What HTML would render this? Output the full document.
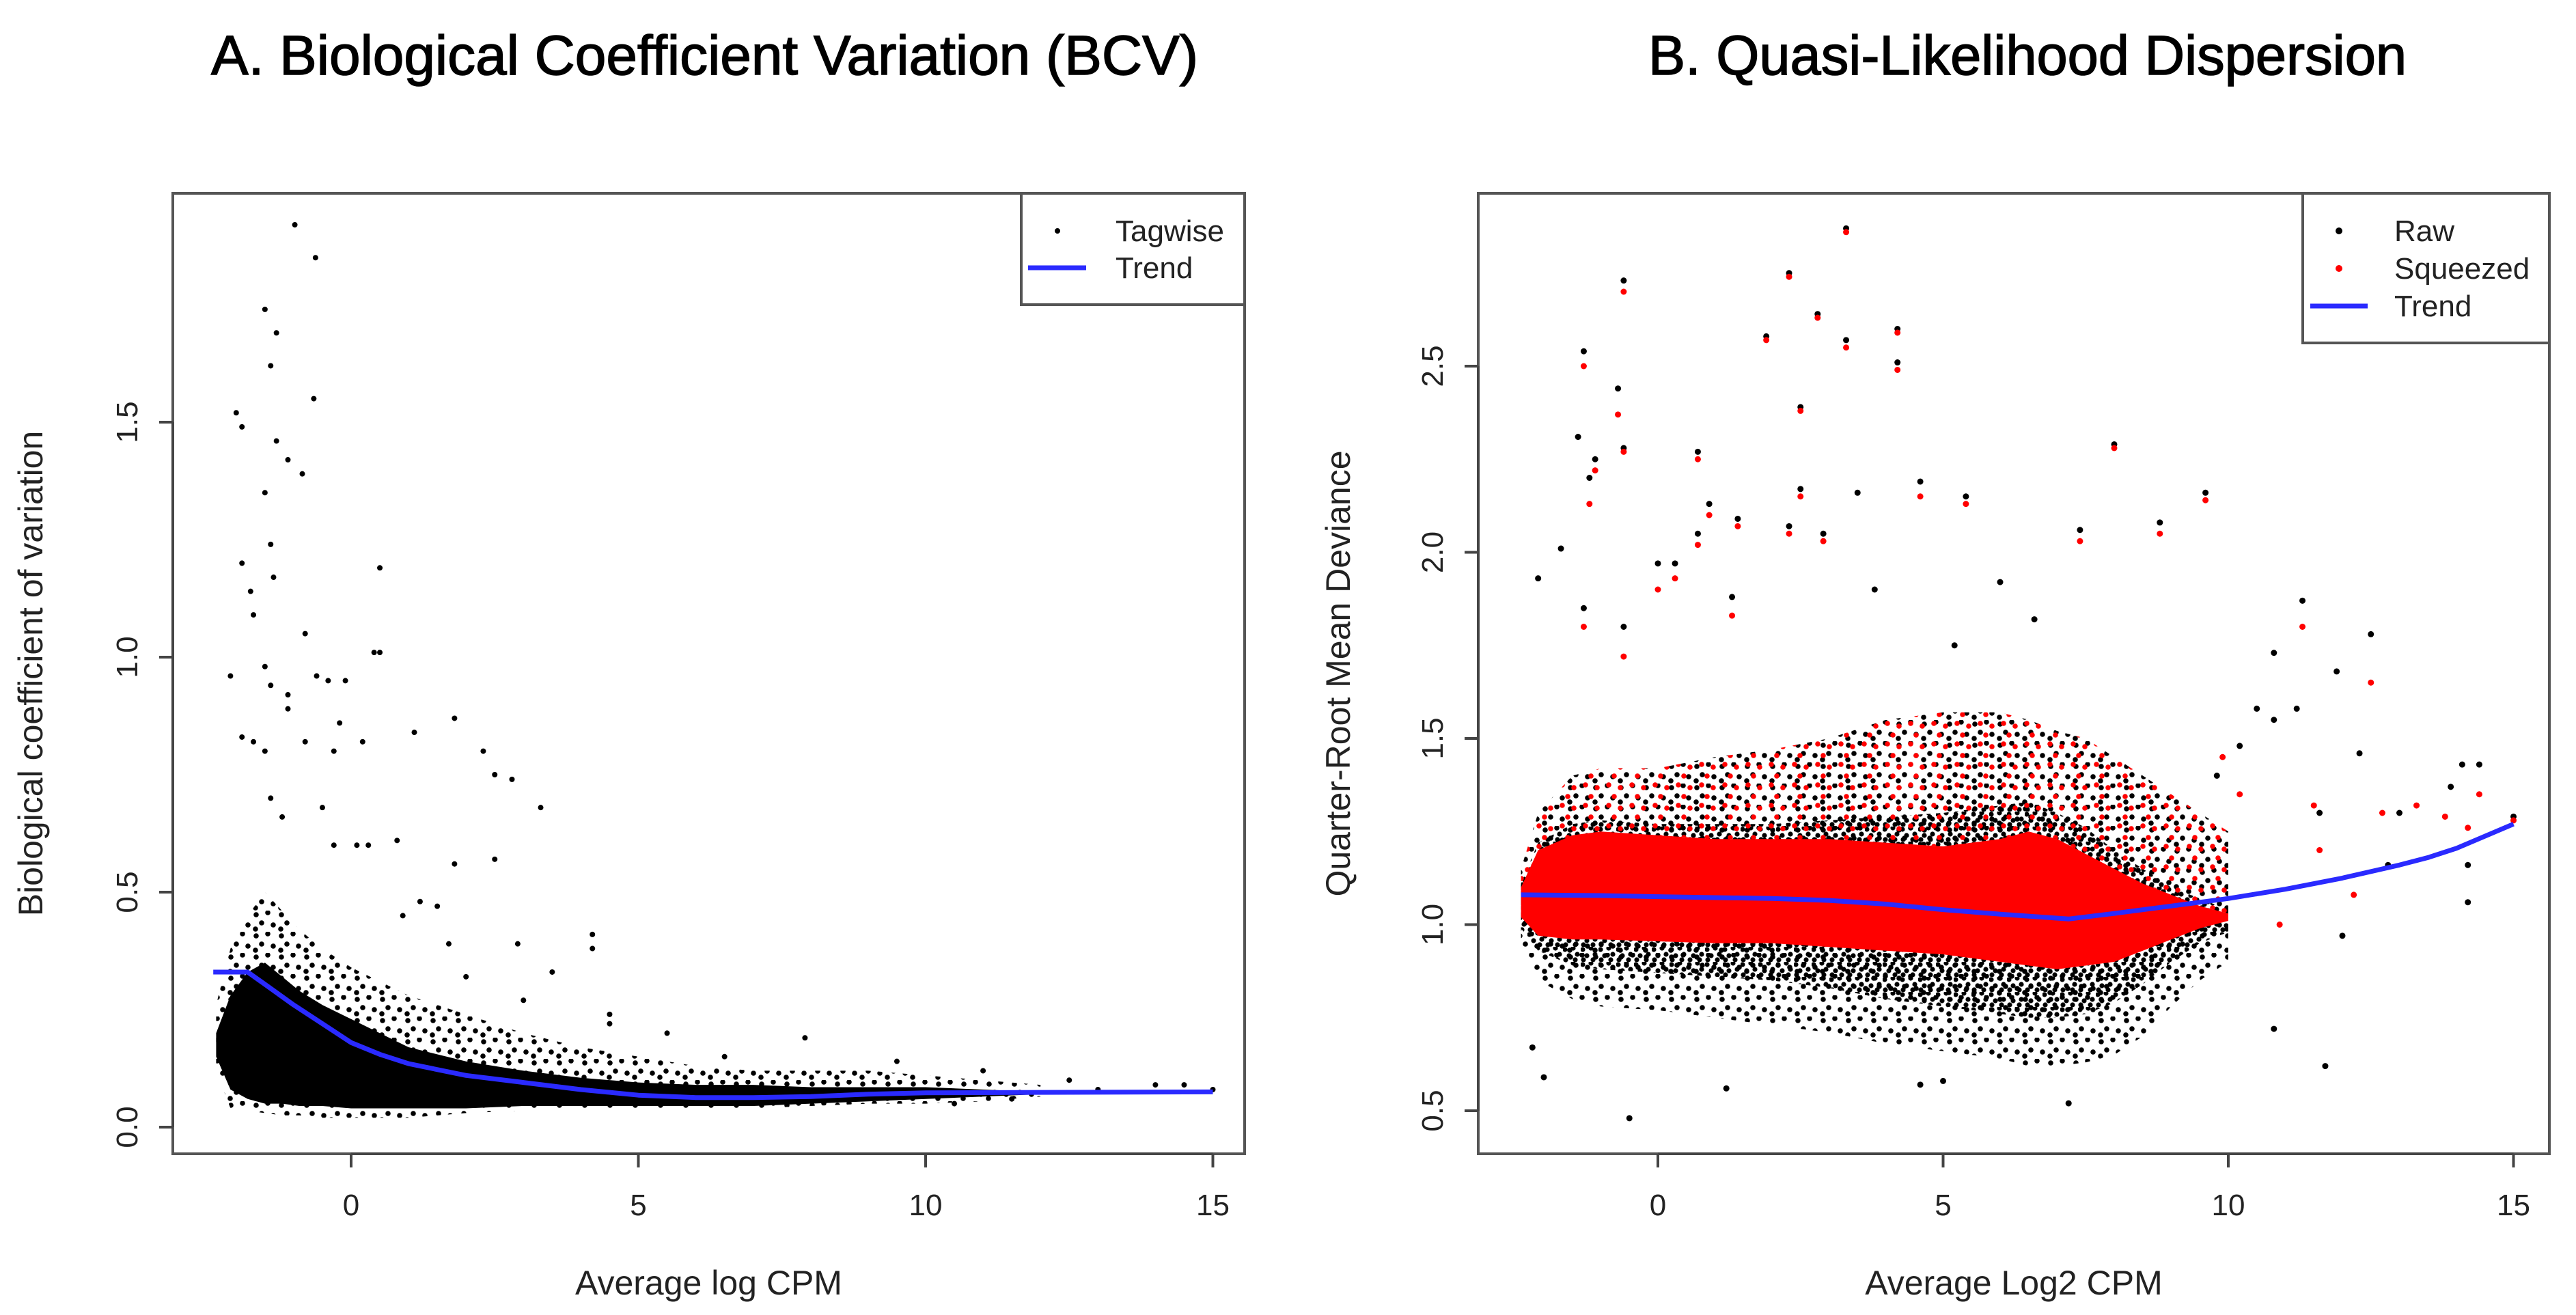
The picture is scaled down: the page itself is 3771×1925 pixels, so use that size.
<!DOCTYPE html>
<html><head><meta charset="utf-8"><style>
html,body{margin:0;padding:0;background:#fff;}
svg{display:block;}
text{font-family:"Liberation Sans",sans-serif;}
</style></head><body>
<svg id="fig" xmlns="http://www.w3.org/2000/svg" width="3771" height="1925" viewBox="0 0 3771 1925">
<defs>
<pattern id="speckK" width="26" height="22" patternUnits="userSpaceOnUse">
<circle cx="3" cy="4" r="3.6" fill="#000"/><circle cx="15" cy="2" r="3.6" fill="#000"/><circle cx="9" cy="13" r="3.6" fill="#000"/><circle cx="21" cy="11" r="3.6" fill="#000"/><circle cx="4" cy="19" r="3.6" fill="#000"/><circle cx="18" cy="19" r="3.6" fill="#000"/>
</pattern>
<pattern id="speckK2" width="37" height="31" patternUnits="userSpaceOnUse">
<circle cx="5" cy="6" r="3.8" fill="#000"/><circle cx="22" cy="3" r="3.8" fill="#000"/><circle cx="13" cy="18" r="3.8" fill="#000"/><circle cx="30" cy="21" r="3.8" fill="#000"/><circle cx="4" cy="27" r="3.8" fill="#000"/>
</pattern>
<pattern id="speckR" width="34" height="30" patternUnits="userSpaceOnUse">
<circle cx="9" cy="9" r="3.8" fill="#f00"/><circle cx="26" cy="13" r="3.8" fill="#f00"/><circle cx="17" cy="26" r="3.8" fill="#f00"/>
</pattern>
</defs>
<text x="309" y="109" font-size="82" stroke="#000" stroke-width="1.5" textLength="1445" lengthAdjust="spacingAndGlyphs">A. Biological Coefficient Variation (BCV)</text>
<text x="2413" y="109" font-size="82" stroke="#000" stroke-width="1.5" textLength="1110" lengthAdjust="spacingAndGlyphs">B. Quasi-Likelihood Dispersion</text>
<g id="panelA"></g>
<g id="panelB"></g>
</svg>
<script>
// ---------- Panel A data ----------
const aEnvX      = [-2.35,-2.1,-1.8,-1.5,-1.2,-0.9,-0.5,0,0.5,1,2,3,4,5,6,7,8,9,10,11,12];
const aHaloUpper = [0.26,0.38,0.45,0.5,0.46,0.42,0.38,0.34,0.31,0.28,0.24,0.2,0.17,0.15,0.13,0.12,0.12,0.12,0.11,0.1,0.09];
const aCoreUpper = [0.2,0.28,0.33,0.35,0.32,0.29,0.26,0.23,0.2,0.17,0.14,0.12,0.105,0.095,0.09,0.09,0.085,0.085,0.085,0.08,0.075];
const aCoreLower = [0.15,0.08,0.06,0.05,0.05,0.045,0.045,0.04,0.04,0.04,0.04,0.045,0.045,0.045,0.045,0.045,0.05,0.055,0.06,0.065,0.07];
const aHaloLower = [0.12,0.04,0.035,0.03,0.025,0.025,0.02,0.02,0.02,0.02,0.03,0.035,0.04,0.04,0.04,0.04,0.045,0.05,0.05,0.055,0.065];
const aOutX = [-0.98,-0.62,-1.5,-1.3,-1.4,-0.65,-2.0,-1.9,-1.3,-1.1,-0.85,-1.5,-1.4,-1.35,-1.9,-1.75,-1.7,0.5,-0.8,0.4,0.5,-2.1,-0.6,-0.4,-0.1,-1.5,-1.4,-1.1,-1.1,-0.2,1.8,1.1,-1.9,-1.7,-1.5,-0.8,2.3,2.5,2.8,3.3,0.2,-0.3,0.8,1.8,2.5,1.2,1.5,4.2,4.2,3.5,2.9,1.7,0.1,0.3,-0.3,7.9,5.5,4.5,6.5,9.5,11,12.5,14.5,14,13,11.5,10.5,15,-1.4,-1.2,-0.5,0.9,3.0,4.5,2.0,-2.2,-2.3];
const aOutY = [1.92,1.85,1.74,1.69,1.62,1.55,1.52,1.49,1.46,1.42,1.39,1.35,1.24,1.17,1.2,1.14,1.09,1.19,1.05,1.01,1.01,0.96,0.96,0.95,0.95,0.98,0.94,0.92,0.89,0.86,0.87,0.84,0.83,0.82,0.8,0.82,0.8,0.75,0.74,0.68,0.82,0.8,0.61,0.56,0.57,0.48,0.47,0.41,0.38,0.33,0.39,0.39,0.6,0.6,0.6,0.19,0.2,0.24,0.15,0.14,0.12,0.1,0.09,0.09,0.08,0.06,0.05,0.08,0.7,0.66,0.68,0.45,0.27,0.22,0.32,0.2,0.17];
const aTrendX = [-2.4,-1.8,-1.4,-1,-0.5,0,0.5,1,2,3,4,5,6,7,8,9,10,12,15];
const aTrendY = [0.33,0.33,0.295,0.26,0.22,0.18,0.155,0.135,0.11,0.095,0.08,0.068,0.063,0.063,0.065,0.07,0.073,0.074,0.075];
const aXTicks = [0,5,10,15];
const aYTicks = [0.0,0.5,1.0,1.5];
const aYTickLabels = ["0.0","0.5","1.0","1.5"];
// ---------- Panel B data ----------
const bEnvX      = [-2.4,-2.1,-1.5,-1,0,1,2,3,4,5,6,6.5,7,7.5,8,8.5,9,9.5,10];
const bHaloUpper = [1.15,1.3,1.4,1.42,1.42,1.45,1.47,1.5,1.55,1.57,1.57,1.55,1.52,1.5,1.45,1.4,1.35,1.3,1.25];
const bKUpper    = [1.11,1.22,1.27,1.28,1.27,1.27,1.27,1.28,1.29,1.3,1.32,1.33,1.3,1.26,1.2,1.15,1.1,1.07,1.04];
const bRUpper    = [1.1,1.2,1.24,1.25,1.24,1.23,1.23,1.23,1.22,1.21,1.23,1.25,1.23,1.19,1.15,1.11,1.08,1.05,1.03];
const bRLower    = [1.02,0.97,0.96,0.96,0.955,0.95,0.95,0.94,0.93,0.92,0.9,0.89,0.88,0.89,0.9,0.93,0.96,0.99,1.01];
const bKLower    = [0.99,0.93,0.89,0.88,0.87,0.86,0.85,0.83,0.8,0.78,0.76,0.75,0.75,0.76,0.79,0.84,0.9,0.95,0.98];
const bHaloLower = [0.95,0.85,0.8,0.78,0.77,0.75,0.73,0.71,0.68,0.66,0.64,0.62,0.62,0.63,0.65,0.7,0.78,0.85,0.9];
const bRawX = [-0.6,-1.3,2.3,3.3,2.8,3.3,4.2,4.2,1.9,-0.7,2.5,-0.6,0.7,-1.4,-1.1,-1.2,8,4.6,5.4,9.6,3.5,2.5,0.9,1.4,2.3,2.9,7.4,8.8,-1.7,0.7,0,0.3,-2.1,-1.3,-0.6,1.3,12.5,11.3,11.9,10.8,14.4,14.1,12.3,13.9,14.2,14.2,11.7,-0.5,7.2,-2.0,-2.2,1.2,4.6,5,10.8,12,12.8,11.2,10.5,10.8,10.2,11.6,9.8,13.0,15,3.8,6.0,6.6,5.2];
const bRawY = [2.73,2.54,2.75,2.87,2.64,2.57,2.6,2.51,2.58,2.44,2.39,2.28,2.27,2.31,2.25,2.2,2.29,2.19,2.15,2.16,2.16,2.17,2.13,2.09,2.07,2.05,2.06,2.08,2.01,2.05,1.97,1.97,1.93,1.85,1.8,1.88,1.78,1.87,1.68,1.73,1.43,1.43,1.46,1.37,1.16,1.06,0.62,0.48,0.52,0.59,0.67,0.56,0.57,0.58,0.72,0.97,1.16,1.58,1.58,1.55,1.48,1.3,1.4,1.3,1.29,1.9,1.92,1.82,1.75];
const bSqX = [-0.6,-1.3,2.3,3.3,2.8,3.3,4.2,4.2,1.9,-0.7,2.5,-0.6,0.7,-1.1,-1.2,8,4.6,5.4,9.6,2.5,0.9,1.4,2.3,2.9,7.4,8.8,0.7,0,0.3,-1.3,-0.6,1.3,12.5,11.3,14.4,14.2,13.3,12.7,11.5,10.2,13.8,10.9,11.6,12.2,9.9,15];
const bSqY = [2.7,2.5,2.74,2.86,2.63,2.55,2.59,2.49,2.57,2.37,2.38,2.27,2.25,2.22,2.13,2.28,2.15,2.13,2.14,2.15,2.1,2.07,2.05,2.03,2.03,2.05,2.02,1.9,1.93,1.8,1.72,1.83,1.65,1.8,1.35,1.26,1.32,1.3,1.32,1.35,1.29,1.0,1.2,1.08,1.45,1.28];
const bTrendX = [-2.4,-1,0,2,3,4,5,6,7.2,8,8.5,9,10,11,12,13,13.5,14,15];
const bTrendY = [1.08,1.078,1.075,1.07,1.065,1.055,1.04,1.028,1.015,1.03,1.04,1.05,1.07,1.095,1.125,1.16,1.18,1.205,1.27];
const bXTicks = [0,5,10,15];
const bYTicks = [0.5,1.0,1.5,2.0,2.5];
const bYTickLabels = ["0.5","1.0","1.5","2.0","2.5"];

const NS = "http://www.w3.org/2000/svg";
function mk(parent, tag, attrs){ const e=document.createElementNS(NS,tag); for(const k in attrs) e.setAttribute(k,attrs[k]); parent.appendChild(e); return e; }

function band(g, sx, sy, xs, up, lo, fill){
  let d = xs.map((x,i)=>(i?'L':'M')+sx(x).toFixed(1)+','+sy(up[i]).toFixed(1)).join('');
  for(let i=xs.length-1;i>=0;i--) d += 'L'+sx(xs[i]).toFixed(1)+','+sy(lo[i]).toFixed(1);
  return mk(g,'path',{d:d+'Z',fill:fill});
}
function line(g, sx, sy, xs, ys){
  const d = xs.map((x,i)=>(i?'L':'M')+sx(x).toFixed(1)+','+sy(ys[i]).toFixed(1)).join('');
  return mk(g,'path',{d:d,fill:'none',stroke:'#2a2aff','stroke-width':7,'stroke-linejoin':'round'});
}
function axes(g, box, sx, sy, xt, yt, ytl, ylab, xlab, ylabX){
  const bx = mk(g,'rect',{x:box.l,y:box.t,width:box.r-box.l,height:box.b-box.t,fill:'none',stroke:'#555','stroke-width':4});
  
  
  const xa = mk(g,'g',{});
  
  
  mk(xa,'line',{x1:sx(xt[0]),x2:sx(xt[xt.length-1]),y1:box.b,y2:box.b,stroke:'#444','stroke-width':4});
  xt.forEach(v=>{
    mk(xa,'line',{x1:sx(v),x2:sx(v),y1:box.b,y2:box.b+20,stroke:'#444','stroke-width':4});
    const t = mk(xa,'text',{x:sx(v),y:box.b+90,'font-size':44,'text-anchor':'middle',fill:'#222'});
    t.textContent = String(v);
    
    
  });
  const ya = mk(g,'g',{});
  
  
  mk(ya,'line',{x1:box.l,x2:box.l,y1:sy(yt[0]),y2:sy(yt[yt.length-1]),stroke:'#444','stroke-width':4});
  yt.forEach((v,i)=>{
    mk(ya,'line',{x1:box.l,x2:box.l-20,y1:sy(v),y2:sy(v),stroke:'#444','stroke-width':4});
    const tx = box.l-52, ty = sy(v);
    const t = mk(ya,'text',{x:tx,y:ty,'font-size':44,'text-anchor':'middle',fill:'#222',transform:`rotate(-90 ${tx} ${ty})`});
    t.textContent = ytl[i];
    
    
  });
  const cy = (box.t+box.b)/2;
  const yl = mk(g,'text',{x:ylabX,y:cy,'font-size':50,'text-anchor':'middle',fill:'#222',transform:`rotate(-90 ${ylabX} ${cy})`});
  yl.textContent = ylab;
  
  
  const xl = mk(g,'text',{x:(box.l+box.r)/2,y:1895,'font-size':50,'text-anchor':'middle',fill:'#222'});
  xl.textContent = xlab;
  
  
}

// ---------- Panel A ----------
(function(){
  const g = document.getElementById('panelA');
  const box = {l:253,r:1822,t:283,b:1689};
  const sx = x => 514 + x*84.1;
  const sy = y => 1650 - y*688;
  const pts = mk(g,'g',{});
  
  
  band(pts,sx,sy,aEnvX,aHaloUpper,aHaloLower,'url(#speckK2)');
  band(pts,sx,sy,aEnvX,aCoreUpper,aCoreLower,'#000');
  aOutX.forEach((x,i)=>{
    const c = mk(pts,'circle',{cx:sx(x),cy:sy(aOutY[i]),r:4,fill:'#000'});
    
    
  });
  const tr = line(g,sx,sy,aTrendX,aTrendY);
  
  
  axes(g,box,sx,sy,aXTicks,aYTicks,aYTickLabels,'Biological coefficient of variation','Average log CPM',62);
  const lg = mk(g,'g',{});
  
  
  mk(lg,'rect',{x:1495,y:283,width:327,height:163,fill:'#fff',stroke:'#555','stroke-width':4});
  mk(lg,'circle',{cx:1548,cy:338,r:4,fill:'#000'});
  let t = mk(lg,'text',{x:1633,y:353,'font-size':44,fill:'#222'}); t.textContent='Tagwise';
  
  
  mk(lg,'line',{x1:1505,x2:1590,y1:392,y2:392,stroke:'#2a2aff','stroke-width':7});
  t = mk(lg,'text',{x:1633,y:407,'font-size':44,fill:'#222'}); t.textContent='Trend';
  
  
})();

// ---------- Panel B ----------
(function(){
  const g = document.getElementById('panelB');
  const box = {l:2164,r:3732,t:283,b:1689};
  const sx = x => 2427 + x*83.5;
  const sy = y => 1626 - (y-0.5)*545;
  const raw = mk(g,'g',{});
  
  
  band(raw,sx,sy,bEnvX,bHaloUpper,bHaloLower,'url(#speckK2)');
  band(raw,sx,sy,bEnvX,bKUpper,bKLower,'url(#speckK)');
  bRawX.forEach((x,i)=>{
    const c = mk(raw,'circle',{cx:sx(x),cy:sy(bRawY[i]),r:4.5,fill:'#000'});
    
    
  });
  const sq = mk(g,'g',{});
  
  
  band(sq,sx,sy,bEnvX,bHaloUpper,bRUpper,'url(#speckR)');
  band(sq,sx,sy,bEnvX,bRUpper,bRLower,'#f00');
  bSqX.forEach((x,i)=>{
    const c = mk(sq,'circle',{cx:sx(x),cy:sy(bSqY[i]),r:4.5,fill:'#f00'});
    
    
  });
  const tr = line(g,sx,sy,bTrendX,bTrendY);
  
  
  axes(g,box,sx,sy,bXTicks,bYTicks,bYTickLabels,'Quarter-Root Mean Deviance','Average Log2 CPM',1976);
  const lg = mk(g,'g',{});
  
  
  mk(lg,'rect',{x:3371,y:283,width:361,height:219,fill:'#fff',stroke:'#555','stroke-width':4});
  mk(lg,'circle',{cx:3424,cy:338,r:5,fill:'#000'});
  let t = mk(lg,'text',{x:3505,y:353,'font-size':44,fill:'#222'}); t.textContent='Raw';
  
  
  mk(lg,'circle',{cx:3424,cy:393,r:5,fill:'#f00'});
  t = mk(lg,'text',{x:3505,y:408,'font-size':44,fill:'#222'}); t.textContent='Squeezed';
  
  
  mk(lg,'line',{x1:3382,x2:3466,y1:448,y2:448,stroke:'#2a2aff','stroke-width':7});
  t = mk(lg,'text',{x:3505,y:463,'font-size':44,fill:'#222'}); t.textContent='Trend';
  
  
})();
</script>
</body></html>
